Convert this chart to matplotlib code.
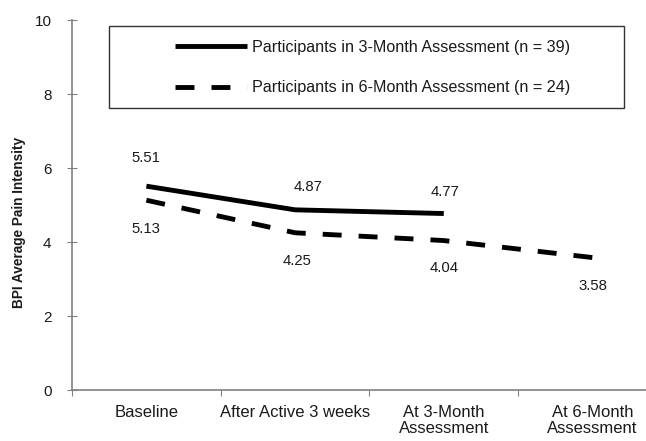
import matplotlib
matplotlib.use("Agg")
import matplotlib.pyplot as plt
from matplotlib.patches import Rectangle

plt.rcParams['font.family'] = ['Liberation Sans', 'DejaVu Sans']

# data
categories = ["Baseline", "After Active 3 weeks", "At 3-Month\nAssessment", "At 6-Month\nAssessment"]
pain_3m = [5.51, 4.87, 4.77]
pain_6m = [5.13, 4.25, 4.04, 3.58]
label_3m = "Participants in 3-Month Assessment (n = 39)"
label_6m = "Participants in 6-Month Assessment (n = 24)"
yticks = [0, 2, 4, 6, 8, 10]

# label offsets in points (dx, dy)
off_3m = [(0, 20), (9.4, 16.5), (0.7, 15.5)]
off_6m = [(0, -21), (1.5, -20), (0, -20), (0, -20.5)]

gray = '#808080'
txt = '#1a1a1a'

fig = plt.figure(figsize=(6.46, 4.41), dpi=100)
ax = fig.add_axes([0.1115, 0.1156, 0.8885, 0.839])

# category axis: ticks on the boundaries, labels in between
ax.set_xticks(range(len(categories) + 1))
ax.set_xticklabels([])
xc = [i + 0.5 for i in range(len(categories))]
ax.set_xticks(xc, minor=True)
ax.set_xticklabels(categories, minor=True, fontsize=12, color=txt, va='top', linespacing=1.1)
ax.set_xlim(0, 3.86)
ax.set_ylim(0, 10)
ax.tick_params(axis='x', which='minor', length=0, pad=10.5)
ax.tick_params(axis='x', which='major', length=4, color=gray, direction='out')
ax.set_yticks(yticks)
ax.set_yticklabels([str(v) for v in yticks], fontsize=11, color=txt)
ax.tick_params(axis='y', direction='inout', length=7.7, color=gray, pad=11)
for s in ['top', 'right']:
    ax.spines[s].set_visible(False)
for s in ['left', 'bottom']:
    ax.spines[s].set_color(gray)
    ax.spines[s].set_linewidth(1.2)
ax.set_ylabel("BPI Average Pain Intensity", fontsize=9.8, fontweight='bold', color=txt)
ax.yaxis.set_label_coords(-0.080, 0.454)

x3 = xc[:len(pain_3m)]
x6 = xc[:len(pain_6m)]
l1, = ax.plot(x3, pain_3m, color='black', lw=3.5, solid_capstyle='butt', label=label_3m)
l2, = ax.plot(x6, pain_6m, color='black', lw=3.5, dashes=(3.9, 3.5), label=label_6m)

for xi, yi, (dx, dy) in zip(x3, pain_3m, off_3m):
    ax.annotate(f"{yi:.2f}", (xi, yi), xytext=(dx, dy), textcoords='offset points',
                ha='center', va='center', fontsize=10.7, color=txt)
for xi, yi, (dx, dy) in zip(x6, pain_6m, off_6m):
    ax.annotate(f"{yi:.2f}", (xi, yi), xytext=(dx, dy), textcoords='offset points',
                ha='center', va='center', fontsize=10.7, color=txt)

# legend box
ax.add_patch(Rectangle((0.0645, 0.762), 0.897, 0.222, transform=ax.transAxes,
                       fill=False, edgecolor='#333333', lw=1, clip_on=False))
leg = ax.legend(handles=[l1, l2], loc='center left', bbox_to_anchor=(0.1794, 0.8716),
                frameon=False, fontsize=11.6, handlelength=4.47, handletextpad=0.31,
                labelspacing=1.6, borderpad=0, borderaxespad=0)
for t in leg.get_texts():
    t.set_color(txt)

fig.savefig("out.png", dpi=100)
